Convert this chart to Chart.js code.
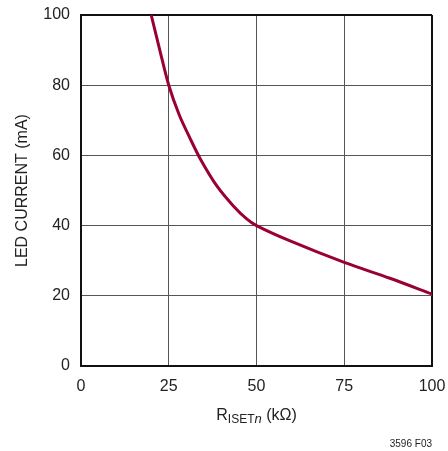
<!DOCTYPE html>
<html>
<head>
<meta charset="utf-8">
<script src="https://cdn.jsdelivr.net/npm/chart.js@4"></script>
<style>
  html, body { margin: 0; padding: 0; background: #fff; }
  #wrap { width: 448px; height: 451px; }
</style>
</head>
<body>
<div id="wrap"><canvas id="ledChart" width="448" height="451"></canvas></div>
<script>
// values
var rIset = [20, 22.5, 25, 28, 31, 34, 38.7, 43.4, 47.2, 50, 59.4, 75, 88, 100];
var ledCurrent = [100, 89.8, 80, 71.5, 65, 59, 51.3, 45.6, 41.9, 40, 35.7, 29.5, 25, 20.5];
var xTicks = [0, 25, 50, 75, 100];
var yTicks = [0, 20, 40, 60, 80, 100];

var FONT = "'Liberation Sans', Arial, sans-serif";

var points = rIset.map(function (x, i) {
  return { x: x, y: ledCurrent[i] };
});

// x title with subscript + figure code
var extraText = {
  id: "extraText",
  afterDraw: function (chart) {
    var c = chart.ctx;
    var a = chart.chartArea;
    var parts = [
      { t: "R", f: "16px " + FONT, dy: 0 },
      { t: "ISET", f: "12px " + FONT, dy: 3 },
      { t: "n", f: "italic 13px " + FONT, dy: 3 },
      { t: " (k\u03A9)", f: "16px " + FONT, dy: 0 },
    ];
    c.save();
    c.fillStyle = "#222";
    c.textBaseline = "alphabetic";
    c.textAlign = "left";
    var total = 0;
    parts.forEach(function (p) {
      c.font = p.f;
      p.w = c.measureText(p.t).width;
      total += p.w;
    });
    var x = (a.left + a.right) / 2 - total / 2;
    var base = a.bottom + 54;
    parts.forEach(function (p) {
      c.font = p.f;
      c.fillText(p.t, x, base + p.dy);
      x += p.w;
    });
    c.font = "10px " + FONT;
    c.textAlign = "right";
    c.fillText("3596 F03", a.right, a.bottom + 81);
    c.restore();
  },
};

function edgeColor(ctx) {
  var v = ctx.tick ? ctx.tick.value : null;
  return v === 100 ? "#111" : "#555";
}
function edgeWidth(ctx) {
  var v = ctx.tick ? ctx.tick.value : null;
  return v === 100 ? 2 : 1;
}
function noPad(scale) {
  scale.paddingTop = 0;
  scale.paddingBottom = 0;
  scale.paddingLeft = 0;
  scale.paddingRight = 0;
}

var ctx = document.getElementById("ledChart").getContext("2d");
var ledChart = new Chart(ctx, {
  type: "line",
  data: {
    datasets: [
      {
        data: points,
        borderColor: "#990033",
        borderWidth: 3,
        pointRadius: 0,
        fill: false,
        tension: 0.3,
      },
    ],
  },
  options: {
    responsive: false,
    animation: false,
    layout: { padding: { top: 15, right: 16, left: 0, bottom: 0 } },
    plugins: {
      legend: { display: false },
      tooltip: { enabled: false },
    },
    scales: {
      x: {
        type: "linear",
        min: 0,
        max: 100,
        afterFit: function (scale) { scale.height = 85; noPad(scale); },
        afterBuildTicks: function (scale) {
          scale.ticks = xTicks.map(function (v) { return { value: v }; });
        },
        grid: { color: edgeColor, lineWidth: edgeWidth, drawTicks: false },
        border: { color: "#111", width: 2 },
        ticks: {
          color: "#222",
          padding: 11,
          maxRotation: 0,
          font: { family: FONT, size: 16 },
        },
      },
      y: {
        min: 0,
        max: 100,
        afterFit: function (scale) { scale.width = 81; noPad(scale); },
        afterBuildTicks: function (scale) {
          scale.ticks = yTicks.map(function (v) { return { value: v }; });
        },
        grid: { color: edgeColor, lineWidth: edgeWidth, drawTicks: false },
        border: { color: "#111", width: 2 },
        title: {
          display: true,
          text: "LED CURRENT (mA)",
          color: "#222",
          padding: { top: 13, bottom: 0 },
          font: { family: FONT, size: 16 },
        },
        ticks: {
          color: "#222",
          padding: 11,
          font: { family: FONT, size: 16 },
        },
      },
    },
  },
  plugins: [extraText],
});
</script>
</body>
</html>
